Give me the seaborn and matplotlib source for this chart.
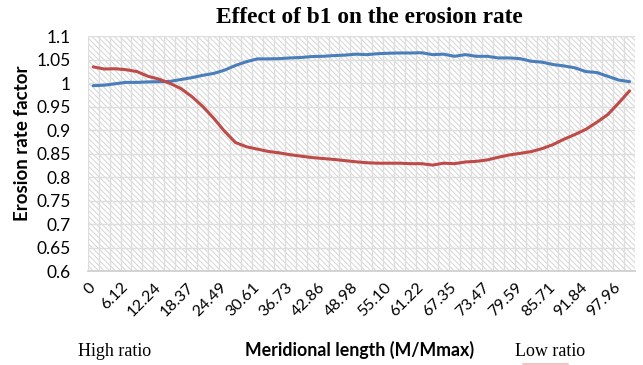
import matplotlib
matplotlib.use("Agg")
import matplotlib.pyplot as plt
from matplotlib.patches import Rectangle
from matplotlib.lines import Line2D
import numpy as np
import pandas as pd
import seaborn as sns

# Meridional position along the blade (M/Mmax, %)
meridional_length = [
    "0", "2.04", "4.08", "6.12", "8.16", "10.20", "12.24", "14.29", "16.33", "18.37",
    "20.41", "22.45", "24.49", "26.53", "28.57", "30.61", "32.65", "34.69", "36.73", "38.78",
    "40.82", "42.86", "44.90", "46.94", "48.98", "51.02", "53.06", "55.10", "57.14", "59.18",
    "61.22", "63.27", "65.31", "67.35", "69.39", "71.43", "73.47", "75.51", "77.55", "79.59",
    "81.63", "83.67", "85.71", "87.76", "89.80", "91.84", "93.88", "95.92", "97.96", "100.00",
]

high_ratio = [
    0.995, 0.996, 0.999, 1.002, 1.002, 1.003, 1.0035, 1.004, 1.008, 1.012,
    1.017, 1.021, 1.028, 1.038, 1.046, 1.052, 1.052, 1.0525, 1.054, 1.055,
    1.057, 1.0575, 1.059, 1.060, 1.062, 1.061, 1.063, 1.064, 1.0645, 1.0645,
    1.065, 1.061, 1.062, 1.0575, 1.061, 1.0575, 1.0575, 1.054, 1.054, 1.0525,
    1.047, 1.045, 1.040, 1.037, 1.033, 1.025, 1.023, 1.015, 1.007, 1.0035,
]

low_ratio = [
    1.035, 1.0305, 1.031, 1.029, 1.025, 1.015, 1.009, 1.000, 0.989, 0.972,
    0.951, 0.926, 0.898, 0.874, 0.865, 0.860, 0.855, 0.852, 0.848, 0.845,
    0.842, 0.840, 0.838, 0.8355, 0.833, 0.831, 0.830, 0.830, 0.830, 0.829,
    0.829, 0.826, 0.830, 0.829, 0.8326, 0.834, 0.837, 0.8426, 0.8475, 0.851,
    0.8546, 0.861, 0.8695, 0.881, 0.891, 0.902, 0.917, 0.9333, 0.958, 0.984,
]

y_ticks = [0.6, 0.65, 0.7, 0.75, 0.8, 0.85, 0.9, 0.95, 1.0, 1.05, 1.1]
y_tick_labels = ["0.6", "0.65", "0.7", "0.75", "0.8", "0.85", "0.9", "0.95", "1", "1.05", "1.1"]

series_names = ["High ratio", "Low ratio"]
series_colors = {"High ratio": "#4A7EBB", "Low ratio": "#BE4B48"}

df = pd.DataFrame({
    "Meridional length": meridional_length * 2,
    "Erosion rate factor": high_ratio + low_ratio,
    "Ratio": [series_names[0]] * len(high_ratio) + [series_names[1]] * len(low_ratio),
})

sns.set_theme(style="white")
plt.rcParams["font.family"] = ["Lato", "DejaVu Sans"]
plt.rcParams["hatch.linewidth"] = 0.8
plt.rcParams["hatch.color"] = "#d9d9d9"

fig = plt.figure(figsize=(6.43, 3.65), dpi=100)
ax = fig.add_axes([0.1364, 0.2567, 0.8512, 0.6438])

# hatched plot-area background
ax.add_patch(Rectangle((0, 0), 1, 1, transform=ax.transAxes, facecolor="white",
                       edgecolor="#d9d9d9", linewidth=0, hatch="\\" * 6, zorder=0))

sns.lineplot(data=df, x="Meridional length", y="Erosion rate factor", hue="Ratio",
             palette=series_colors, linewidth=2.2, sort=False, legend=False, ax=ax,
             zorder=3)

n = len(meridional_length)
ax.set_xlim(-0.5, n - 0.5)
ax.set_ylim(0.6, 1.1)

ax.set_xticks(range(0, n, 3))
ax.set_xticklabels([meridional_length[i] for i in range(0, n, 3)],
                   rotation=45, ha="right", va="center", rotation_mode="anchor",
                   fontsize=11.5)
ax.set_xticks(np.arange(-0.5, n, 1), minor=True)
ax.set_yticks(y_ticks)
ax.set_yticklabels(y_tick_labels, fontsize=12.5)
ax.tick_params(axis="both", which="both", length=0, colors="black")
ax.tick_params(axis="x", which="major", pad=10)
ax.tick_params(axis="y", which="major", pad=12)

ax.set_axisbelow(True)
ax.grid(False)
ax.xaxis.grid(True, which="minor", color="#dedede", linewidth=1.0, zorder=1)
ax.yaxis.grid(True, which="major", color="#dedede", linewidth=1.0, zorder=1)

for side in ["top", "right", "left"]:
    ax.spines[side].set_visible(False)
ax.spines["bottom"].set_color("#d0d0d0")
ax.spines["bottom"].set_linewidth(1.3)

ax.set_xlabel("Meridional length (M/Mmax)", fontsize=12.8, fontweight="bold", color="black")
ax.xaxis.set_label_coords(0.4966, -0.335)
ax.xaxis.label.set_va("center")
ax.set_ylabel("Erosion rate factor", fontsize=13.5, fontweight="bold", color="black")
ax.yaxis.set_label_coords(-0.12, 0.545)
ax.yaxis.label.set_va("center")

fig.text(0.574, 0.953, "Effect of b1 on the erosion rate", family="Liberation Serif",
         fontweight="bold", fontsize=16.8, ha="center", va="center", color="black")
fig.text(115 / 643, 1 - 351 / 365, "High ratio", family="Liberation Serif",
         fontsize=13, ha="center", va="center", color="black")
fig.text(550 / 643, 1 - 351 / 365, "Low ratio", family="Liberation Serif",
         fontsize=13, ha="center", va="center", color="black")
fig.add_artist(Line2D([523 / 643, 568 / 643], [1 - 364 / 365] * 2,
                      transform=fig.transFigure, color="#f4c4c4", linewidth=1.5))

fig.savefig("out.png", dpi=100, facecolor="white")
